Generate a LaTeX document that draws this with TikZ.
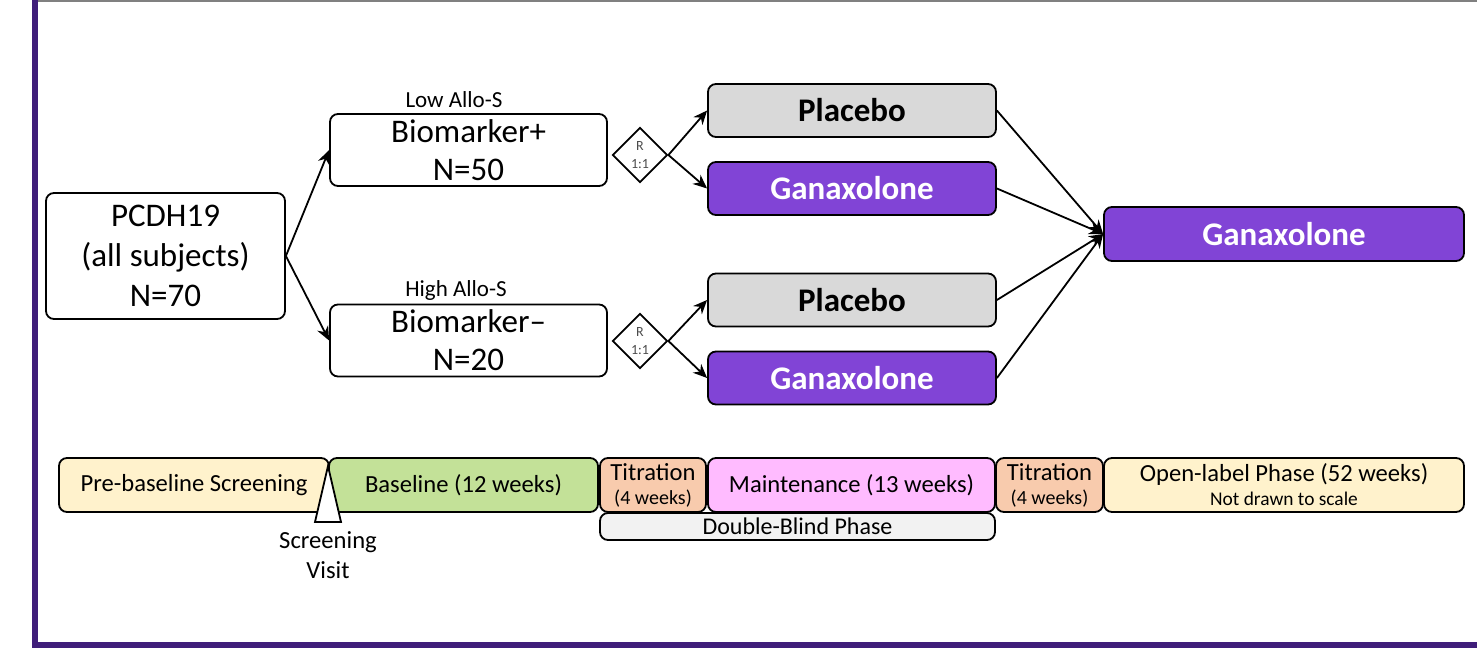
\documentclass[tikz,border=0pt]{standalone}
\usepackage{fontspec}
\setmainfont{Carlito}
\usetikzlibrary{arrows.meta,positioning,shapes.geometric}

\definecolor{framepurple}{RGB}{64,30,122}
\definecolor{drugpurple}{RGB}{129,68,214}
\definecolor{placebogray}{RGB}{217,217,217}
\definecolor{screenyellow}{RGB}{255,242,204}
\definecolor{basegreen}{RGB}{195,225,152}
\definecolor{titrpeach}{RGB}{248,203,173}
\definecolor{maintpink}{RGB}{255,187,255}
\definecolor{blindgray}{RGB}{242,242,242}

\begin{document}
\begin{tikzpicture}[> = {Stealth[length=7pt,width=6pt]}, x=0.5pt, y=-0.5pt]
            % Estilos
            \tikzstyle{box}=[rectangle, rounded corners=4pt, draw, line width=0.9pt, inner sep=0pt, align=center]
            \tikzstyle{group}=[box, minimum width=138.5pt, minimum height=36pt, font=\fontsize{16.5}{19}\selectfont]
            \tikzstyle{arm}=[box, minimum width=144pt, minimum height=26.5pt, font=\bfseries\fontsize{16.5}{20}\selectfont]
            \tikzstyle{rand}=[diamond, draw, line width=0.9pt, inner sep=0pt, minimum width=27.5pt, minimum height=27.5pt, align=center, text=black!70, font=\fontsize{7}{9}\selectfont]
            \tikzstyle{phase}=[box, minimum height=27pt, font=\fontsize{12.3}{13}\selectfont]
            \tikzstyle{tag}=[font=\fontsize{11.5}{13}\selectfont]
            \tikzstyle{link}=[->, line width=0.9pt]

            \useasboundingbox (0,0) rectangle (1477,648);

            % Moldura
            \fill[framepurple] (32,0) rectangle (38,648);
            \fill[framepurple] (32,642) rectangle (1477,648);
            \draw[gray, line width=1pt] (38,1) -- (1477,1);

            % Grupos
            \node[box, minimum width=119.5pt, minimum height=63pt, font=\fontsize{16.5}{20}\selectfont] (pcdh) at (165.5,256) {PCDH19\\(all subjects)\\N=70};
            \node[group] (bmpos) at (468.5,150) {Biomarker+\\N=50};
            \node[group] (bmneg) at (468.5,340.5) {Biomarker--\\N=20};
            \node[tag] (lowtag) at (454,100) {Low Allo-S};
            \node[tag] (hightag) at (456,290) {High Allo-S};

            % Randomizacao
            \node[rand] (rpos) at (640,155) {R\\1:1};
            \node[rand] (rneg) at (640,341) {R\\1:1};

            % Bracos
            \node[arm, fill=placebogray] (plpos) at (852,110.5) {Placebo};
            \node[arm, fill=drugpurple, text=white] (gxpos) at (852,188.5) {Ganaxolone};
            \node[arm, fill=placebogray] (plneg) at (852,300) {Placebo};
            \node[arm, fill=drugpurple, text=white] (gxneg) at (852,378) {Ganaxolone};
            \node[arm, fill=drugpurple, text=white, minimum width=180pt, minimum height=27pt] (gxopen) at (1284,234) {Ganaxolone};

            % Setas
            \draw[link] (pcdh.east) -- (bmpos.west);
            \draw[link] (pcdh.east) -- (bmneg.west);
            \draw[link] (rpos.east) -- (plpos.west);
            \draw[link] (rpos.east) -- (gxpos.west);
            \draw[link] (rneg.east) -- (plneg.west);
            \draw[link] (rneg.east) -- (gxneg.west);
            \draw[link] (plpos.east) -- (gxopen.west);
            \draw[link] (gxpos.east) -- (gxopen.west);
            \draw[link] (plneg.east) -- (gxopen.west);
            \draw[link] (gxneg.east) -- (gxopen.west);

            % Linha do tempo
            \node[phase, fill=screenyellow, minimum width=135pt] (prescr) at (194,485) {Pre-baseline Screening};
            \node[phase, fill=basegreen, minimum width=134.5pt] (baseline) at (463.5,485) {Baseline (12 weeks)};
            \node[phase, fill=titrpeach, minimum width=53pt] (titrup) at (653,485) {Titration\\[-1pt]{\fontsize{10}{10}\selectfont (4 weeks)}};
            \node[phase, fill=maintpink, minimum width=143.5pt] (maint) at (851.5,485) {Maintenance (13 weeks)};
            \node[phase, fill=titrpeach, minimum width=53.5pt] (titrdown) at (1049.5,485) {Titration\\[-1pt]{\fontsize{10}{10}\selectfont (4 weeks)}};
            \node[phase, fill=screenyellow, minimum width=180pt] (openlbl) at (1284,485) {Open-label Phase (52 weeks)\\[-1pt]{\fontsize{9.7}{10}\selectfont Not drawn to scale}};
            \node[box, fill=blindgray, minimum width=197.5pt, minimum height=13.5pt, font=\fontsize{12}{13}\selectfont] (dblind) at (797.5,526.5) {Double-Blind Phase};

            % Visita de triagem
            \draw[fill=white, line width=0.9pt] (315,522) -- (328,466) -- (341,522) -- cycle;
            \node[font=\fontsize{12.3}{15}\selectfont, align=center] (visit) at (328,555) {Screening\\Visit};
        \end{tikzpicture}
\end{document}
